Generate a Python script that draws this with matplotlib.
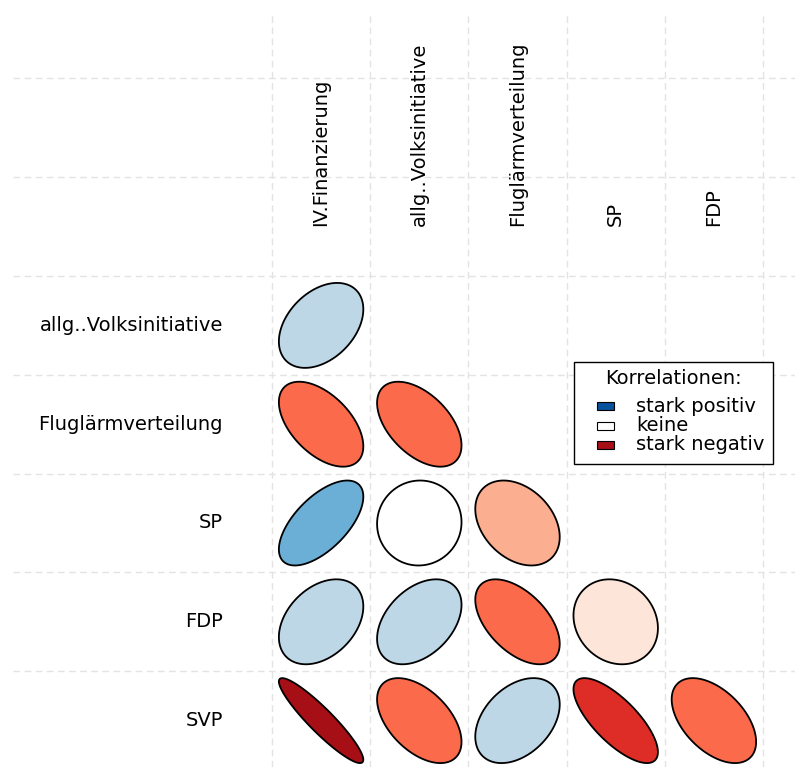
import numpy as np
import matplotlib
matplotlib.use('Agg')
import matplotlib.pyplot as plt
from matplotlib.patches import Polygon, Rectangle

plt.rcParams['font.family'] = ['DejaVu Sans']

# variable names
col_names = ['IV.Finanzierung', 'allg..Volksinitiative', 'Fluglärmverteilung', 'SP', 'FDP']
row_names = ['allg..Volksinitiative', 'Fluglärmverteilung', 'SP', 'FDP', 'SVP']

# lower triangle of the correlation matrix (row by row)
r_allg = [0.38]
r_flug = [-0.52, -0.50]
r_sp = [0.62, 0.02, -0.33]
r_fdp = [0.36, 0.40, -0.52, -0.15]
r_svp = [-0.92, -0.50, 0.38, -0.74, -0.50]
corr_rows = [r_allg, r_flug, r_sp, r_fdp, r_svp]

# red -> white -> blue palette, 11 bins over [-1, 1]
palette = ['#A50F15', '#DE2D26', '#FB6A4A', '#FCAE91', '#FEE5D9', '#FFFFFF',
           '#EFF3FF', '#BDD7E7', '#6BAED6', '#3182BD', '#08519C']
legend_title = 'Korrelationen:'
legend_labels = ['stark positiv', 'keine', 'stark negativ']
legend_cols = ['#08519C', '#FFFFFF', '#A50F15']


def corr_colour(r):
    k = int(np.floor((r + 1) / 2 * len(palette)))
    return palette[min(max(k, 0), len(palette) - 1)]


def ellipse_pts(r, t=0.43, n=100):
    # same construction as R's ellipse(): x = cos(a + d/2), y = cos(a - d/2)
    d = np.arccos(r)
    a = np.linspace(0, 2 * np.pi, n)
    return np.column_stack([t * np.cos(a + d / 2), t * np.cos(a - d / 2)])


W, H = 795, 767
fig = plt.figure(figsize=(W / 100, H / 100), dpi=100)

# pixel layout of the cell grid
cw, ch = 98.2, 98.8
x0px, y0px = 272, 276  # left / top edge of first cell
ax_left, ax_top = 13, 12
ax = fig.add_axes([ax_left / W, 0, (W - ax_left) / W, (H - ax_top) / H])
ax.set_xlim((ax_left - x0px) / cw - 0.5, (W - x0px) / cw - 0.5)
ax.set_ylim((H - y0px) / ch - 0.5, (ax_top - y0px) / ch - 0.5)
ax.axis('off')

# dashed grid
gkw = dict(color='#e3e3e3', lw=1.0, dashes=(4.8, 3.2), zorder=0)
for gx in np.arange(-0.5, len(col_names)):
    ax.axvline(gx, **gkw)
for gy in np.arange(-2.5, len(row_names)):
    ax.axhline(gy, **gkw)

# ellipses
for i, vals in enumerate(corr_rows):
    for j, r in enumerate(vals):
        pts = ellipse_pts(r)
        # y axis is inverted, so flip the ellipse vertically
        pts = np.column_stack([pts[:, 0] + j, -pts[:, 1] + i])
        ax.add_patch(Polygon(pts, closed=True, facecolor=corr_colour(r),
                             edgecolor='black', lw=1.3, zorder=2))

# labels
fs = 14
for j, name in enumerate(col_names):
    ax.text(j, -1.01, name, rotation=90, ha='center', va='bottom', fontsize=fs)
for i, name in enumerate(row_names):
    ax.text(-1.0, i, name, ha='right', va='center', fontsize=fs)

# legend, drawn on a pixel overlay
lg = fig.add_axes([0, 0, 1, 1], zorder=5)
lg.set_xlim(0, W)
lg.set_ylim(H, 0)
lg.axis('off')
lg.add_patch(Rectangle((574, 362), 199, 102, facecolor='white', edgecolor='black', lw=1.0))
lg.text(673, 378, legend_title, ha='center', va='center', fontsize=fs)
for k, (lab, c) in enumerate(zip(legend_labels, legend_cols)):
    yc = 406 + 19.5 * k
    lg.add_patch(Rectangle((597, yc - 4), 17, 8, facecolor=c, edgecolor='black', lw=0.8))
    lg.text(636, yc, lab, ha='left', va='center', fontsize=fs)

fig.savefig('out.png', dpi=100)
